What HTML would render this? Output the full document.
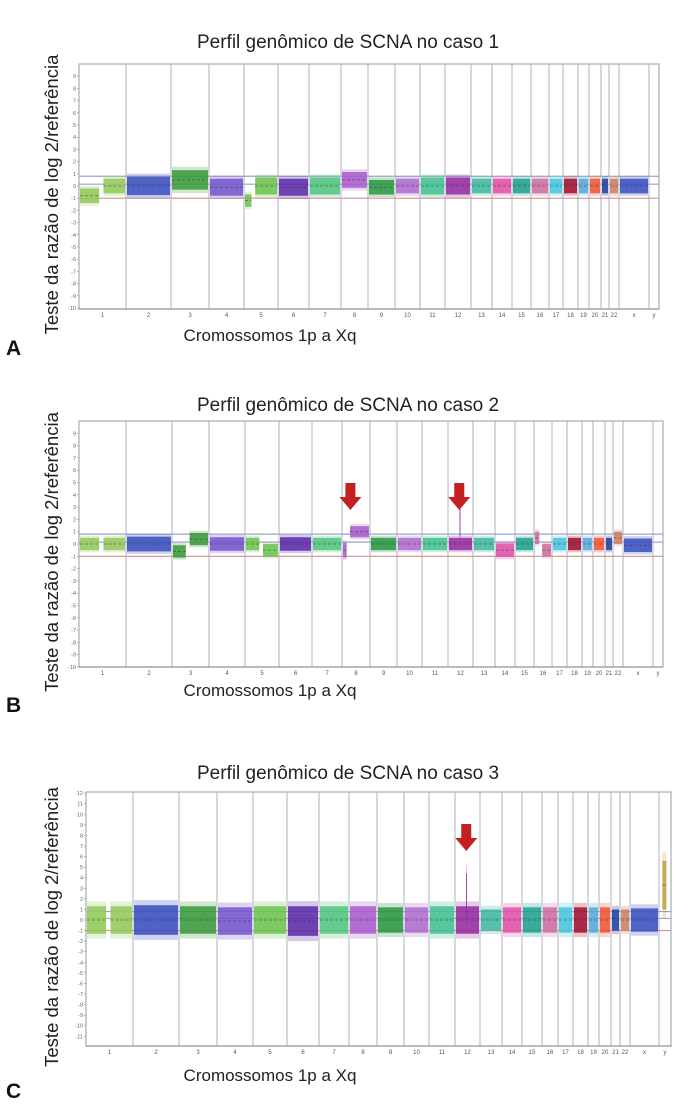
<!DOCTYPE html>
<html><head><meta charset="utf-8"><style>
body{margin:0;background:#fff;width:700px;height:1113px;overflow:hidden}
svg{display:block}
text{font-family:"Liberation Sans",sans-serif}
</style></head><body>
<svg id="fig" width="700" height="1113" viewBox="0 0 700 1113"></svg>
<script>
const chromLabels=["1","2","3","4","5","6","7","8","9","10","11","12","13","14","15","16","17","18","19","20","21","22","x","y"];
const chromColors=["#93c95a","#3b4ec0","#3a9a3a","#7355cc","#6cc24e","#5a2aa8","#4fc47e","#a95ccc","#2a9640","#ad6ccc","#42c090","#962aa0","#40b8a0","#e050a8","#1fa090","#cc6ca0","#44c6e0","#a01030","#55a8d8","#f05535","#2040a0","#cc8060","#3a50c0","#c0a040"];
// boundaries (genome position units) per panel — same genome, drawn with panel-specific axis
const boundsA=[79,126,171,209,244,278,309,341,368,395,420,445,471,492,512,531,549,563,578,589,601,609,619,649,659];
const boundsB=[79,126,172,209,245,279,312,342,370,397,422,448,473,495,515,534,552,567,582,593,605,613,623,653,663];
const boundsC=[86,133,179,217,253,287,319,349,377,404,429,455,480,502,522,542,558,573,588,599,611,620,630,659,671];
// segments: [chromIndex, startFrac, endFrac, meanLog2, halfSpread]
const segA=[[0,0,0.45,-0.8,0.6],[0,0.5,1,0,0.6],[1,0,1,0,0.75],[2,0,1,0.5,0.8],[3,0,1,-0.1,0.7],[4,0,0.25,-1.2,0.5],[4,0.3,1,0,0.7],[5,0,1,-0.1,0.7],[6,0,1,0,0.7],[7,0,1,0.5,0.65],[8,0,1,-0.1,0.6],[9,0,1,0,0.6],[10,0,1,0,0.7],[11,0,1,0,0.7],[12,0,1,0,0.6],[13,0,1,0,0.6],[14,0,1,0,0.6],[15,0,1,0,0.6],[16,0,1,0,0.6],[17,0,1,0,0.6],[18,0,1,0,0.6],[19,0,1,0,0.6],[20,0,1,0,0.6],[21,0,1,0,0.6],[22,0,1,0,0.6]];
const segB=[[0,0,0.45,0,0.5],[0,0.5,1,0,0.5],[1,0,1,0,0.6],[2,0,0.4,-0.6,0.5],[2,0.45,1,0.4,0.5],[3,0,1,0,0.55],[4,0,0.45,0,0.5],[4,0.5,1,-0.5,0.5],[5,0,1,0,0.55],[6,0,1,0,0.5],[7,0,0.2,-0.5,0.6],[7,0.25,1,1,0.45],[8,0,1,0,0.5],[9,0,1,0,0.5],[10,0,1,0,0.5],[11,0,1,0,0.5],[12,0,1,0,0.5],[13,0,1,-0.5,0.55],[14,0,1,0,0.5],[15,0,0.35,0.5,0.5],[15,0.4,1,-0.5,0.5],[16,0,1,0,0.5],[17,0,1,0,0.5],[18,0,1,0,0.5],[19,0,1,0,0.5],[20,0,1,0,0.5],[21,0,1,0.5,0.5],[22,0,1,-0.1,0.55]];
const spikeB=[[11,0.42,0.48,2.2,1.6]];
const segC=[[0,0,0.45,0,1.3],[0,0.5,1,0,1.3],[1,0,1,0,1.4],[2,0,1,0,1.3],[3,0,1,-0.1,1.3],[4,0,1,0,1.3],[5,0,1,-0.1,1.4],[6,0,1,0,1.3],[7,0,1,0,1.3],[8,0,1,0,1.2],[9,0,1,0,1.2],[10,0,1,0,1.3],[11,0,1,0,1.3],[12,0,1,0,1.0],[13,0,1,0,1.2],[14,0,1,0,1.2],[15,0,1,0,1.2],[16,0,1,0,1.2],[17,0,1,0,1.2],[18,0,1,0,1.2],[19,0,1,0,1.2],[20,0,1,0,1.0],[21,0,1,0,1.0],[22,0,1,0,1.1],[23,0.2,0.7,3.3,2.3]];
const spikeC=[[11,0.4,0.5,2.2,2.2]];
const ticksAB=[9,8,7,6,5,4,3,2,1,0,-1,-2,-3,-4,-5,-6,-7,-8,-9,-10];
const ticksC=[12,11,10,9,8,7,6,5,4,3,2,1,0,-1,-2,-3,-4,-5,-6,-7,-8,-9,-10,-11];
const arrowsB=[[7,0.3],[11,0.45]];
const arrowsC=[[11,0.45]];

const NS="http://www.w3.org/2000/svg";
const svg=document.getElementById('fig');
function mk(tag,attrs,parent,txt){const e=document.createElementNS(NS,tag);for(const k in attrs)e.setAttribute(k,attrs[k]);if(txt!==undefined)e.textContent=txt;(parent||svg).appendChild(e);return e;}

function panel(cfg){
  const g=mk('g',{});
  
  
  const b=cfg.bounds, L=b[0], R=b[b.length-1];
  const y=v=>cfg.y0-v*cfg.unit;
  const xg=(c,f)=>b[c]+(b[c+1]-b[c])*f;
  const t=mk('text',{x:cfg.titleX,y:cfg.titleY,'font-size':19,'text-anchor':'middle',fill:'#222'},g,cfg.title);
  
  
  const fr=mk('rect',{x:L,y:cfg.top,width:R-L,height:cfg.bottom-cfg.top,fill:'#fff',stroke:'#a8acb8','stroke-width':1.2},g);
  
  
  for(let i=1;i<b.length-1;i++){
    const l=mk('line',{x1:b[i],x2:b[i],y1:cfg.top,y2:cfg.bottom,stroke:'#b4b8c4','stroke-width':1.1},g);
    
    
  }
  // threshold lines
  const th=[[0.8,'#9aa4c8'],[0.15,'#9aa4c8'],[-1,'#d49090']];
  th.forEach(([v,c])=>{const l=mk('line',{x1:L,x2:R,y1:y(v),y2:y(v),stroke:c,'stroke-width':1.2},g);
    
    });
  const drawSeg=(s,kind)=>{
    const [c,f0,f1,m,sp]=s;const x0=xg(c,f0)+1,x1=xg(c,f1)-1;const col=chromColors[c];
    const o=mk('rect',{x:x0,y:y(m+sp*1.35),width:Math.max(1,x1-x0),height:sp*2.7*cfg.unit,fill:col,opacity:0.25},g);
    
    
    const r=mk('rect',{x:x0,y:y(m+sp),width:Math.max(1,x1-x0),height:sp*2*cfg.unit,fill:col,opacity:0.85},g);
    
    
    const ml=mk('line',{x1:x0,x2:x1,y1:y(m),y2:y(m),stroke:'#333','stroke-width':0.8,'stroke-dasharray':'3,2',opacity:0.6},g);
    
    
  };
  cfg.segs.forEach(s=>drawSeg(s,'segment'));
  (cfg.spikes||[]).forEach(s=>drawSeg(s,'amplification-spike'));
  const ax=mk('line',{x1:L,x2:R,y1:cfg.bottom,y2:cfg.bottom,stroke:'#888','stroke-width':1},g);
  
  
  cfg.ticks.forEach(v=>{
    const tl=mk('text',{x:L-3,y:y(v)+2,'font-size':5.5,'text-anchor':'end',fill:'#666'},g,v);
    
    
    mk('line',{x1:L-2,x2:L,y1:y(v),y2:y(v),stroke:'#888','stroke-width':0.6},g);
  });
  chromLabels.forEach((lab,i)=>{
    const tl=mk('text',{x:(b[i]+b[i+1])/2,y:cfg.bottom+8,'font-size':6,'text-anchor':'middle',fill:'#555'},g,lab);
    
    
  });
  (cfg.arrows||[]).forEach(([c,f])=>{
    const cx=xg(c,f),ay=cfg.arrowY;
    const a=mk('polygon',{points:`${cx-5},${ay} ${cx+5},${ay} ${cx+5},${ay+14} ${cx+11},${ay+14} ${cx},${ay+27} ${cx-11},${ay+14} ${cx-5},${ay+14}`,fill:'#c42020'},g);
    
    
  });
  const mid=(cfg.top+cfg.bottom)/2+8;
  const yl=mk('text',{x:0,y:0,'font-size':18.5,'text-anchor':'middle',fill:'#222',transform:`translate(${cfg.ylabX},${mid}) rotate(-90)`},g,'Teste da razão de log 2/referência');
  
  
  const xl=mk('text',{x:270,y:cfg.xlabY,'font-size':17,'text-anchor':'middle',fill:'#222'},g,'Cromossomos 1p a Xq');
  
  
  const pl=mk('text',{x:6,y:cfg.letterY,'font-size':21,'font-weight':'bold',fill:'#111'},g,cfg.letter);
  
  
}
panel({name:'panel-a',bounds:boundsA,segs:segA,top:64,bottom:309,y0:186,unit:12.2,ticks:ticksAB,title:'Perfil genômico de SCNA no caso 1',titleX:348,titleY:48,ylabX:58,xlabY:341,letter:'A',letterY:355});
panel({name:'panel-b',bounds:boundsB,segs:segB,spikes:spikeB,arrows:arrowsB,arrowY:483,top:421,bottom:667,y0:544,unit:12.3,ticks:ticksAB,title:'Perfil genômico de SCNA no caso 2',titleX:348,titleY:411,ylabX:58,xlabY:696,letter:'B',letterY:712});
panel({name:'panel-c',bounds:boundsC,segs:segC,spikes:spikeC,arrows:arrowsC,arrowY:824,top:792,bottom:1046,y0:920,unit:10.57,ticks:ticksC,title:'Perfil genômico de SCNA no caso 3',titleX:348,titleY:779,ylabX:58,xlabY:1081,letter:'C',letterY:1098});
</script>
</body></html>
